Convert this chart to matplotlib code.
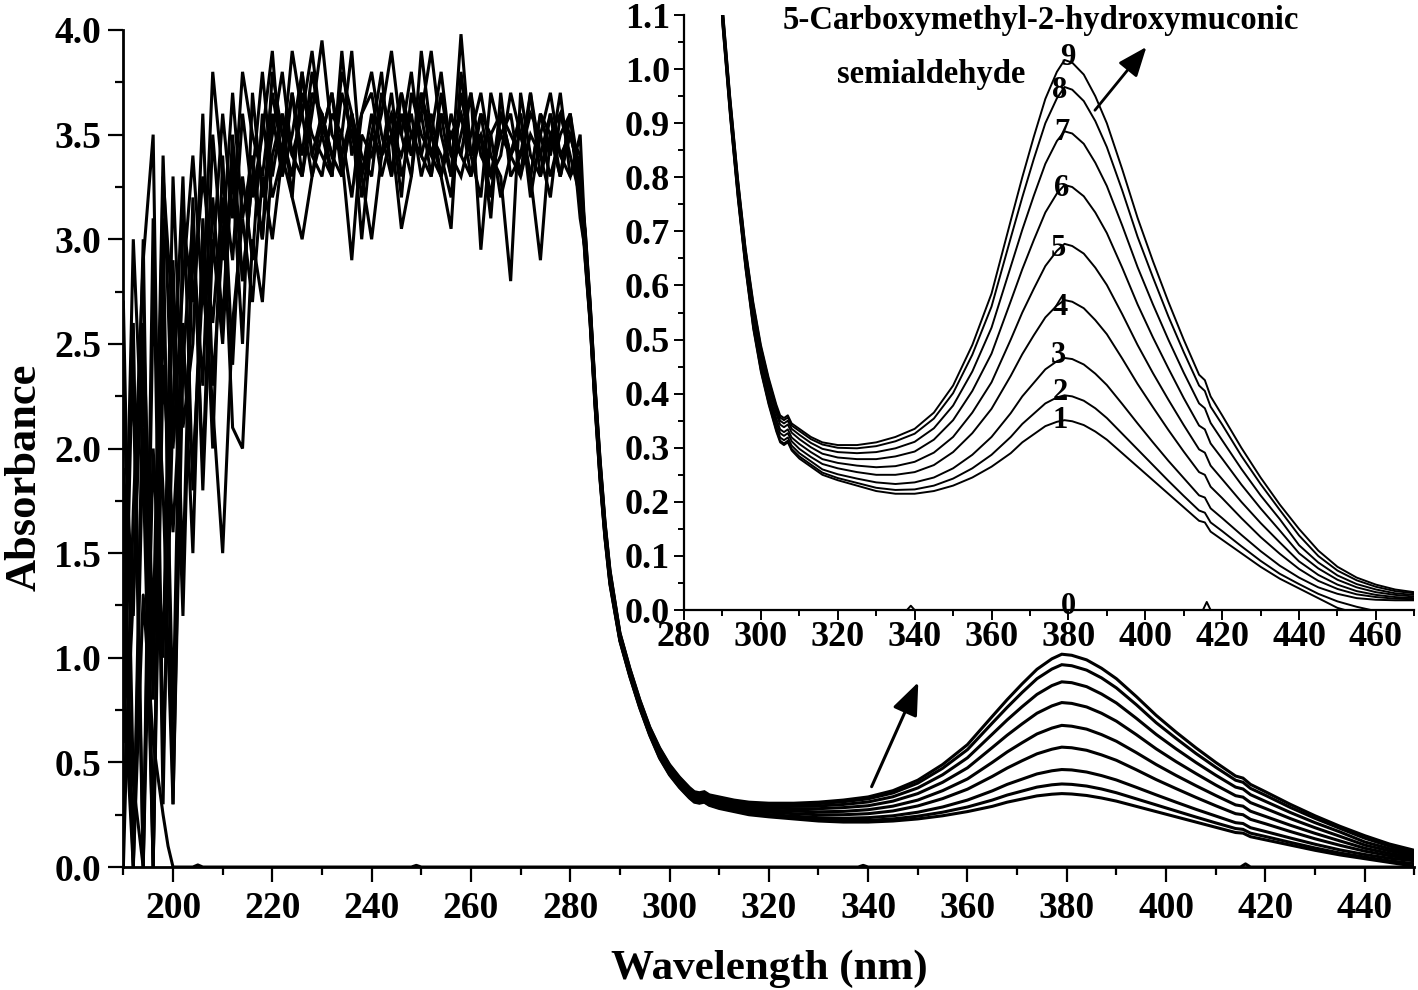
import matplotlib
matplotlib.use("Agg")
import matplotlib.pyplot as plt
from matplotlib.ticker import MultipleLocator
import numpy as np

plt.rcParams['font.family'] = ['Liberation Serif', 'DejaVu Serif']
plt.rcParams['font.weight'] = 'bold'

# ---------------- data ----------------
# noisy (saturated) region, 190-282 nm
wl_noisy = [190, 192, 194, 196, 198, 200, 202, 204, 206, 208, 210, 212, 214, 216, 218, 220,
            222, 224, 226, 228, 230, 232, 234, 236, 238, 240, 242, 244, 246, 248, 250, 252,
            254, 256, 258, 260, 262, 264, 266, 268, 270, 272, 274, 276, 278, 280, 282]

noisy_1 = [1.9, 0.0, 2.1, 0.0, 2.4, 1.6, 2.5, 1.9, 2.8, 2.2, 1.5, 2.6, 3.1, 2.7, 3.3, 3.0, 3.4, 3.2, 3.0, 3.3,
           3.6, 3.4, 3.3, 3.6, 3.2, 3.5, 3.4, 3.7, 3.3, 3.5, 3.6, 3.3, 3.7, 3.4, 3.6, 3.3, 3.5, 3.2, 3.6, 3.4,
           3.5, 3.3, 3.6, 3.4, 3.7, 3.3, 3.4]
noisy_2 = [0.6, 2.6, 0.0, 3.1, 0.3, 2.9, 1.4, 3.2, 1.8, 3.0, 2.5, 3.4, 2.8, 3.3, 3.0, 3.6, 3.3, 3.7, 3.4, 3.8,
           3.5, 3.3, 3.7, 3.5, 3.3, 3.0, 3.4, 3.6, 3.2, 3.7, 3.5, 3.4, 3.3, 3.05, 3.8, 3.4, 3.5, 3.1, 3.7, 3.3,
           3.4, 3.6, 3.5, 3.3, 3.5, 3.6, 3.2]
noisy_3 = [2.2, 1.2, 3.0, 0.0, 3.1, 0.3, 2.6, 1.5, 3.1, 2.0, 3.4, 2.4, 3.3, 2.9, 3.6, 3.2, 3.4, 3.7, 3.3, 3.6,
           3.95, 3.5, 3.4, 2.9, 3.5, 3.4, 3.6, 3.9, 3.5, 3.3, 3.7, 3.4, 3.6, 3.3, 3.5, 3.7, 3.4, 3.3, 3.5, 3.6,
           3.3, 3.7, 3.4, 3.2, 3.6, 3.5, 3.3]
noisy_4 = [0.0, 1.7, 2.9, 3.5, 0.5, 2.2, 3.3, 1.8, 3.0, 2.6, 3.2, 2.1, 2.0, 3.0, 2.7, 3.4, 3.6, 3.2, 3.8, 3.4,
           3.3, 3.6, 3.5, 3.2, 3.6, 3.7, 3.4, 3.5, 3.05, 3.3, 3.9, 3.5, 3.4, 3.2, 3.7, 3.4, 3.6, 3.3, 3.4, 3.7,
           3.5, 3.3, 3.6, 3.5, 3.3, 3.6, 3.1]
noisy_5 = [1.4, 0.0, 2.4, 0.8, 3.3, 2.6, 1.2, 3.0, 2.3, 3.5, 2.9, 3.3, 2.5, 3.7, 3.2, 3.5, 3.8, 3.4, 3.6, 3.9,
           3.5, 3.7, 3.3, 3.6, 3.0, 3.5, 3.8, 3.3, 3.7, 3.5, 3.4, 3.6, 3.3, 3.5, 3.6, 3.4, 3.2, 3.7, 3.5, 3.4,
           3.6, 3.2, 3.5, 3.7, 3.4, 3.5, 3.4]
noisy_6 = [2.7, 0.4, 0.0, 2.0, 1.0, 3.3, 2.1, 2.5, 3.6, 2.3, 3.0, 3.7, 3.1, 3.4, 3.0, 3.8, 3.5, 3.3, 3.7, 3.5,
           3.4, 3.3, 3.8, 3.6, 3.4, 3.3, 3.7, 3.5, 3.4, 3.6, 3.3, 3.5, 3.8, 3.4, 3.3, 3.5, 3.7, 3.4, 3.3, 2.8,
           3.7, 3.4, 3.3, 3.6, 3.4, 3.3, 3.5]
noisy_7 = [0.9, 3.0, 1.9, 0.0, 2.8, 0.7, 3.1, 2.7, 3.3, 2.9, 3.6, 3.1, 3.8, 3.5, 3.3, 3.7, 3.4, 3.9, 3.6, 3.3,
           3.5, 3.7, 3.4, 3.6, 3.3, 3.5, 3.4, 3.6, 3.5, 3.8, 3.4, 3.3, 3.6, 3.5, 3.4, 3.7, 2.95, 3.5, 3.6, 3.4,
           3.3, 3.5, 3.4, 3.6, 3.3, 3.5, 3.3]
noisy_8 = [1.6, 2.3, 0.0, 2.7, 1.8, 0.3, 2.4, 3.1, 1.9, 3.2, 2.6, 3.5, 2.8, 3.3, 3.8, 3.3, 3.6, 3.4, 3.3, 3.7,
           3.6, 3.4, 3.5, 3.9, 3.3, 3.6, 3.3, 3.5, 3.7, 3.4, 3.6, 3.9, 3.5, 3.3, 3.98, 3.4, 3.5, 3.3, 3.6, 3.5,
           3.4, 3.7, 3.3, 3.5, 3.6, 3.4, 3.2]
noisy_9 = [0.3, 1.3, 2.6, 1.1, 3.4, 2.0, 2.8, 3.4, 2.7, 3.8, 3.3, 2.9, 3.6, 3.2, 3.5, 3.9, 3.3, 3.5, 3.8, 3.4,
           3.6, 3.3, 3.9, 3.4, 3.6, 3.8, 3.5, 3.3, 3.6, 3.4, 3.7, 3.5, 3.3, 3.6, 3.4, 3.3, 3.6, 3.5, 3.2, 3.4,
           3.6, 3.3, 2.9, 3.5, 3.3, 3.6, 3.3]

# smooth region, 283-470 nm
wl_smooth = [283, 284, 285, 286, 287, 288, 290, 292, 294, 296, 298, 300, 302, 304, 305, 306, 307, 308,
             310, 313, 316, 320, 325, 330, 335, 340, 345, 350, 355, 360, 365, 368, 371, 374, 377, 379,
             381, 384, 387, 390, 394, 398, 402, 406, 410, 414, 415.5, 417, 420, 425, 430, 435, 440, 445,
             450, 455, 460, 465, 470]

smooth_1 = [2.90, 2.60, 2.20, 1.85, 1.57, 1.35, 1.08, 0.91, 0.76, 0.63, 0.52, 0.44, 0.38, 0.33, 0.31, 0.305,
            0.31, 0.295, 0.28, 0.265, 0.25, 0.24, 0.23, 0.22, 0.215, 0.215, 0.22, 0.23, 0.245, 0.265, 0.29,
            0.31, 0.325, 0.34, 0.348, 0.351, 0.349, 0.342, 0.33, 0.315, 0.29, 0.265, 0.24, 0.215, 0.19, 0.165,
            0.162, 0.145, 0.13, 0.105, 0.08, 0.058, 0.04, 0.022, 0.004, -0.006, -0.015, -0.022, -0.028]
smooth_2 = [2.91, 2.607, 2.207, 1.857, 1.576, 1.355, 1.083, 0.913, 0.763, 0.633, 0.523, 0.443, 0.383, 0.333,
            0.313, 0.308, 0.313, 0.298, 0.284, 0.269, 0.254, 0.244, 0.235, 0.226, 0.222, 0.223, 0.23, 0.243,
            0.262, 0.287, 0.32, 0.344, 0.363, 0.382, 0.393, 0.397, 0.395, 0.387, 0.373, 0.355, 0.326, 0.297,
            0.268, 0.239, 0.211, 0.184, 0.18, 0.162, 0.146, 0.118, 0.091, 0.067, 0.048, 0.03, 0.016, 0.006,
            -0.002, -0.008, -0.012]
smooth_3 = [2.926, 2.617, 2.217, 1.867, 1.584, 1.362, 1.087, 0.917, 0.767, 0.637, 0.529, 0.449, 0.389, 0.339,
            0.319, 0.314, 0.319, 0.304, 0.29, 0.275, 0.26, 0.251, 0.243, 0.236, 0.233, 0.236, 0.245, 0.262,
            0.287, 0.32, 0.364, 0.395, 0.42, 0.445, 0.46, 0.466, 0.464, 0.454, 0.437, 0.416, 0.381, 0.345,
            0.31, 0.276, 0.244, 0.212, 0.208, 0.188, 0.17, 0.139, 0.109, 0.082, 0.06, 0.042, 0.03, 0.022,
            0.019, 0.018, 0.018]
smooth_4 = [2.95, 2.633, 2.233, 1.883, 1.597, 1.373, 1.093, 0.923, 0.773, 0.643, 0.537, 0.457, 0.397, 0.347,
            0.327, 0.322, 0.327, 0.312, 0.298, 0.283, 0.27, 0.262, 0.255, 0.25, 0.25, 0.255, 0.268, 0.292,
            0.327, 0.372, 0.433, 0.473, 0.508, 0.541, 0.563, 0.573, 0.57, 0.558, 0.536, 0.51, 0.465, 0.418,
            0.375, 0.333, 0.293, 0.255, 0.25, 0.228, 0.207, 0.17, 0.135, 0.104, 0.076, 0.054, 0.039, 0.029,
            0.024, 0.021, 0.02]
smooth_5 = [2.973, 2.649, 2.249, 1.899, 1.609, 1.384, 1.1, 0.93, 0.78, 0.65, 0.544, 0.464, 0.404, 0.354,
            0.334, 0.329, 0.334, 0.319, 0.307, 0.292, 0.279, 0.272, 0.267, 0.264, 0.266, 0.274, 0.291, 0.32,
            0.365, 0.421, 0.5, 0.55, 0.594, 0.636, 0.664, 0.677, 0.673, 0.659, 0.633, 0.601, 0.547, 0.49,
            0.438, 0.389, 0.342, 0.297, 0.291, 0.267, 0.242, 0.2, 0.161, 0.125, 0.09, 0.065, 0.047, 0.035,
            0.028, 0.024, 0.022]
smooth_6 = [2.998, 2.665, 2.265, 1.915, 1.622, 1.396, 1.106, 0.936, 0.786, 0.656, 0.553, 0.473, 0.413, 0.363,
            0.343, 0.338, 0.343, 0.328, 0.316, 0.301, 0.289, 0.282, 0.279, 0.279, 0.284, 0.293, 0.315, 0.351,
            0.405, 0.474, 0.571, 0.63, 0.684, 0.735, 0.77, 0.786, 0.782, 0.765, 0.735, 0.697, 0.633, 0.565,
            0.504, 0.447, 0.392, 0.341, 0.334, 0.308, 0.28, 0.232, 0.188, 0.147, 0.105, 0.077, 0.056, 0.042,
            0.033, 0.028, 0.025]
smooth_7 = [3.02, 2.68, 2.28, 1.93, 1.634, 1.406, 1.112, 0.942, 0.792, 0.662, 0.56, 0.48, 0.42, 0.37,
            0.35, 0.345, 0.35, 0.335, 0.324, 0.309, 0.298, 0.292, 0.29, 0.292, 0.299, 0.311, 0.336, 0.378,
            0.441, 0.522, 0.635, 0.703, 0.766, 0.825, 0.867, 0.885, 0.881, 0.862, 0.827, 0.784, 0.711, 0.634,
            0.565, 0.5, 0.439, 0.382, 0.373, 0.346, 0.314, 0.261, 0.212, 0.168, 0.12, 0.088, 0.064, 0.048,
            0.038, 0.031, 0.028]
smooth_8 = [3.039, 2.693, 2.293, 1.943, 1.644, 1.415, 1.117, 0.947, 0.797, 0.667, 0.566, 0.486, 0.426, 0.376,
            0.356, 0.351, 0.356, 0.341, 0.331, 0.316, 0.306, 0.3, 0.299, 0.303, 0.312, 0.326, 0.354, 0.401,
            0.472, 0.561, 0.688, 0.763, 0.834, 0.9, 0.946, 0.967, 0.962, 0.941, 0.904, 0.856, 0.776, 0.69,
            0.615, 0.543, 0.477, 0.415, 0.405, 0.376, 0.343, 0.285, 0.233, 0.185, 0.138, 0.1, 0.073, 0.055,
            0.043, 0.035, 0.031]
smooth_9 = [3.05, 2.70, 2.30, 1.95, 1.65, 1.42, 1.12, 0.95, 0.80, 0.67, 0.57, 0.49, 0.43, 0.38, 0.36, 0.355,
            0.36, 0.345, 0.335, 0.32, 0.31, 0.305, 0.305, 0.31, 0.32, 0.335, 0.365, 0.415, 0.49, 0.585, 0.72,
            0.80, 0.875, 0.945, 0.995, 1.017, 1.012, 0.99, 0.95, 0.90, 0.815, 0.725, 0.645, 0.57, 0.50, 0.435,
            0.425, 0.395, 0.36, 0.30, 0.245, 0.195, 0.15, 0.11, 0.08, 0.06, 0.047, 0.038, 0.033]

# curve 0 (baseline)
wl_zero = [190, 192, 194, 196, 198, 199, 200, 204, 205, 206, 248, 249, 250, 300, 338, 339, 340,
           360, 415, 416, 417, 470]
abs_zero = [0.9, 0.0, 1.3, 0.6, 0.25, 0.1, 0.0, 0.0, 0.01, 0.0, 0.0, 0.008, 0.0, 0.0, 0.0, 0.008, 0.0,
            0.0, 0.0, 0.015, 0.0, 0.0]

noisy_sets = [noisy_1, noisy_2, noisy_3, noisy_4, noisy_5, noisy_6, noisy_7, noisy_8, noisy_9]
smooth_sets = [smooth_1, smooth_2, smooth_3, smooth_4, smooth_5, smooth_6, smooth_7, smooth_8, smooth_9]

curve_labels = ['0', '1', '2', '3', '4', '5', '6', '7', '8', '9']
label_x = [380.1, 377.8, 377.8, 377.5, 377.8, 377.5, 378.3, 378.3, 377.8, 379.9]
label_y = [0.006, 0.351, 0.403, 0.471, 0.56, 0.669, 0.78, 0.882, 0.961, 1.022]

# ---------------- figure ----------------
fig = plt.figure(figsize=(14.18, 9.9), dpi=100)
ax = fig.add_axes([0.0870, 0.1242, 0.9104, 0.8455])
axi = fig.add_axes([0.4824, 0.3838, 0.5150, 0.6010])

for axx, lw in ((ax, 2.2), (axi, 1.4)):
    axx.plot(wl_zero, abs_zero, color='black', lw=lw)
    for ns, ss in zip(noisy_sets, smooth_sets):
        axx.plot(list(wl_noisy) + list(wl_smooth), list(ns) + list(ss), color='black', lw=lw,
                 solid_joinstyle='miter' if axx is ax else 'round')

# main axes styling
ax.set_xlim(190, 450)
ax.set_ylim(0, 4.0)
ax.xaxis.set_minor_locator(MultipleLocator(10))
ax.yaxis.set_major_locator(MultipleLocator(0.5))
ax.yaxis.set_minor_locator(MultipleLocator(0.25))
ax.set_xticks(range(200, 441, 20))
ax.yaxis.set_major_formatter(matplotlib.ticker.FormatStrFormatter('%.1f'))
for s in ('top', 'right'):
    ax.spines[s].set_visible(False)
for s in ('left', 'bottom'):
    ax.spines[s].set_linewidth(2.0)
ax.tick_params(axis='both', which='major', direction='out', length=11, width=1.6, labelsize=27)
ax.tick_params(axis='both', which='minor', direction='out', length=6, width=1.6)
ax.tick_params(axis='x', which='major', pad=6)
ax.tick_params(axis='y', which='major', pad=5)
ax.set_xlabel('Wavelength (nm)', fontsize=31, fontweight='bold')
ax.set_ylabel('Absorbance', fontsize=32, fontweight='bold')
ax.xaxis.set_label_coords(0.5, -0.098)
ax.yaxis.set_label_coords(-0.061, 0.466)

ax.annotate('', xy=(350.1, 0.883), xytext=(340.7, 0.384),
            arrowprops=dict(arrowstyle='-|>,head_length=1.0,head_width=0.4', color='black', lw=2.2,
                            mutation_scale=20, shrinkA=0, shrinkB=0))

# inset styling
axi.set_xlim(280, 470)
axi.set_ylim(0, 1.1)
axi.set_xticks(range(280, 461, 20))
axi.xaxis.set_minor_locator(MultipleLocator(10))
axi.set_yticks([i / 10 for i in range(0, 12)])
axi.yaxis.set_minor_locator(MultipleLocator(0.05))
axi.yaxis.set_major_formatter(matplotlib.ticker.FormatStrFormatter('%.1f'))
axi.patch.set_alpha(0)
for s in ('top', 'right'):
    axi.spines[s].set_visible(False)
for s in ('left', 'bottom'):
    axi.spines[s].set_linewidth(1.6)
axi.tick_params(axis='both', which='major', direction='out', length=7, width=1.4, labelsize=26)
axi.tick_params(axis='both', which='minor', direction='out', length=4, width=1.4)
axi.tick_params(axis='x', which='major', pad=1)
axi.tick_params(axis='y', which='major', pad=3)

for t, x, y in zip(curve_labels, label_x, label_y):
    axi.text(x, y, t, fontsize=22, fontweight='bold', ha='center', va='center')

axi.annotate('', xy=(400.3, 1.041), xytext=(386.9, 0.924),
             arrowprops=dict(arrowstyle='-|>,head_length=1.0,head_width=0.4', color='black', lw=2.0,
                             mutation_scale=18, shrinkA=0, shrinkB=0))

fig.text(1041 / 1418, 1 - 20 / 990, '5-Carboxymethyl-2-hydroxymuconic', fontsize=23.5,
         fontweight='bold', ha='center', va='center')
fig.text(931 / 1418, 1 - 75 / 990, 'semialdehyde', fontsize=23.5,
         fontweight='bold', ha='center', va='center')

fig.savefig('out.png', dpi=100)
